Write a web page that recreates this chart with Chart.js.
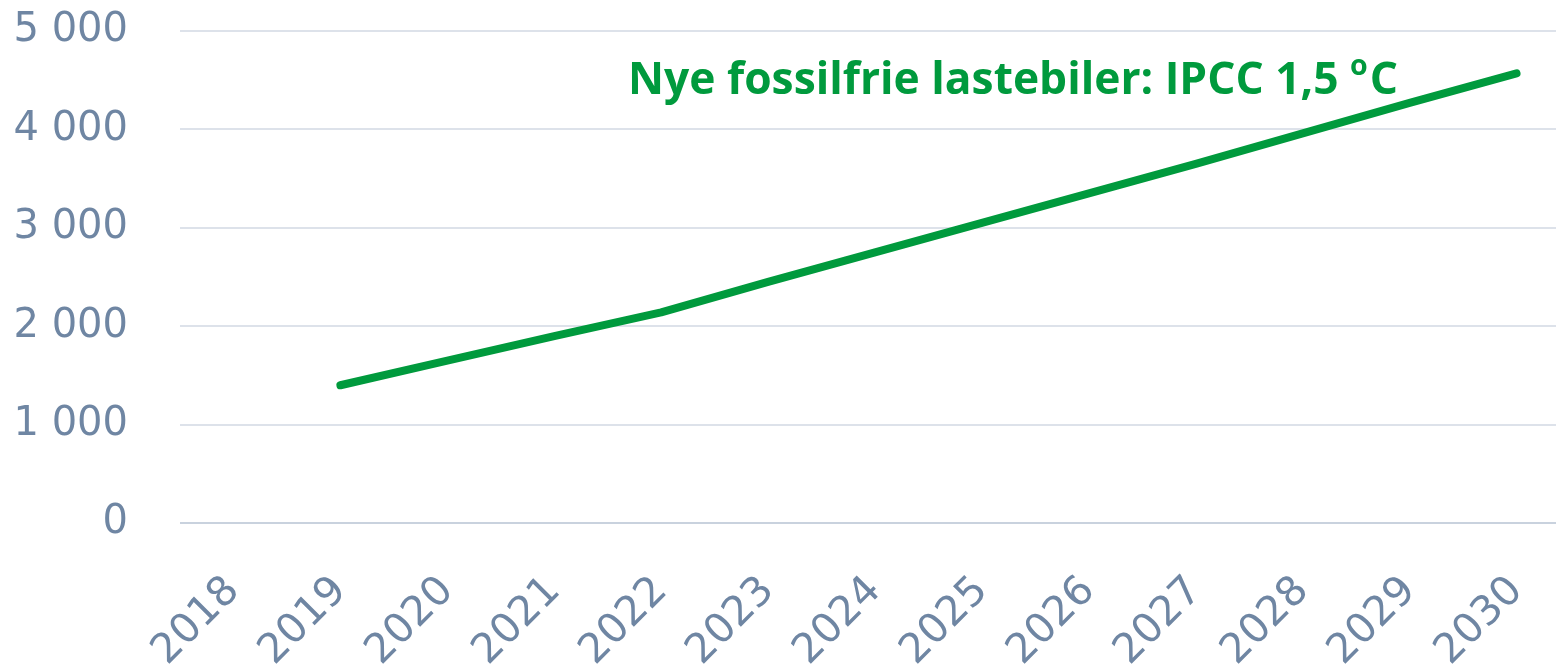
<!DOCTYPE html>
<html lang="no">
<head>
<meta charset="utf-8">
<title>Nye fossilfrie lastebiler</title>
<script src="https://cdn.jsdelivr.net/npm/chart.js@4.4.1/dist/chart.umd.min.js"></script>
<style>
    html, body { margin: 0; padding: 0; background: #fff; overflow: hidden; }
    #wrap { position: relative; width: 1570px; height: 668px; }
</style>
</head>
<body>
<div id="wrap"><canvas id="chart"></canvas></div>
<script>
// --- Data ---
const years = ['2018', '2019', '2020', '2021', '2022', '2023', '2024',
               '2025', '2026', '2027', '2028', '2029', '2030'];
const nyeLastebiler = [null, 1400, 1650, 1900, 2140, 2450, 2750,
                       3050, 3350, 3650, 3960, 4270, 4570];
const yTicks = [0, 1000, 2000, 3000, 4000, 5000];
const seriesLabel = 'Nye fossilfrie lastebiler: IPCC 1,5 ';

const GREEN = '#009a3d';
const LABEL = '#6f86a3';

// mellomrom som tusenskille, som i originalen
function formatNo(v) {
    return String(v).replace(/\B(?=(\d{3})+(?!\d))/g, ' ');
}

// --- Etikett ved linja ---
const seriesText = {
    id: 'seriesText',
    afterDatasetsDraw(chart) {
        const ctx = chart.ctx;
        const right = 1398, base = 94, targetW = 770;
        ctx.save();
        ctx.fillStyle = GREEN;
        ctx.textBaseline = 'alphabetic';
        const big = 'bold 45px "Open Sans"';
        const small = 'bold 29px "Open Sans"';
        ctx.font = big;
        const w1 = ctx.measureText(seriesLabel).width;
        const wC = ctx.measureText('C').width;
        ctx.font = small;
        const wO = ctx.measureText('o').width + 2;
        const total = w1 + wO + wC;
        const sx = targetW / total;
        ctx.translate(right - targetW, base);
        ctx.scale(sx, 1);
        ctx.font = big;
        ctx.fillText(seriesLabel, 0, 0);
        ctx.font = small;
        ctx.fillText('o', w1, -19);
        ctx.font = big;
        ctx.fillText('C', w1 + wO, 0);
        ctx.restore();
    }
};

new Chart(document.getElementById('chart'), {
    type: 'line',
    data: {
        labels: years,
        datasets: [{
            label: 'Nye fossilfrie lastebiler: IPCC 1,5 ºC',
            data: nyeLastebiler,
            borderColor: GREEN,
            borderWidth: 8,
            borderCapStyle: 'round',
            borderJoinStyle: 'round',
            pointRadius: 0,
            tension: 0
        }]
    },
    options: {
        responsive: true,
        maintainAspectRatio: false,
        animation: false,
        layout: { padding: { top: 31, right: 0, left: 0, bottom: 0 } },
        plugins: {
            legend: { display: false },
            tooltip: { enabled: false }
        },
        scales: {
            x: {
                offset: true,
                grid: { display: false, drawTicks: false },
                border: { display: false },
                ticks: {
                    color: LABEL,
                    font: { family: '"DejaVu Sans"', size: 41 },
                    minRotation: 45,
                    maxRotation: 45,
                    padding: 44,
                    autoSkip: false
                },
                afterFit: s => {
                    s.height = 145;
                    s.paddingLeft = 0;
                    s.paddingRight = 0;
                }
            },
            y: {
                min: 0,
                max: 5000,
                afterBuildTicks: s => { s.ticks = yTicks.map(v => ({ value: v })); },
                grid: {
                    color: c => c.tick && c.tick.value === 0 ? '#c9d2de' : '#dde2ea',
                    lineWidth: 2,
                    drawTicks: false
                },
                border: { display: false },
                ticks: {
                    color: LABEL,
                    font: { family: '"DejaVu Sans"', size: 40 },
                    padding: 52,
                    callback: v => formatNo(v)
                },
                afterFit: s => {
                    s.width = 180;
                    s.paddingTop = 0;
                    s.paddingBottom = 0;
                }
            }
        }
    },
    plugins: [seriesText]
});
</script>
</body>
</html>
